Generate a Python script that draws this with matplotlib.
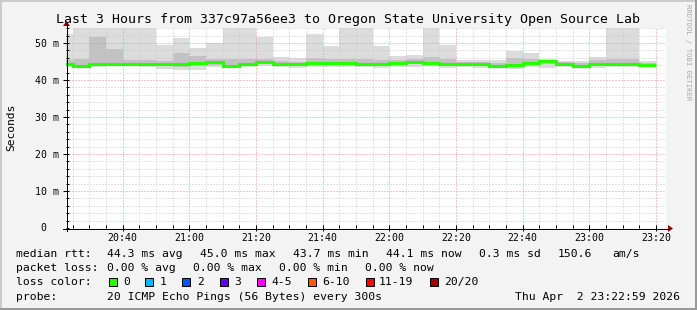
import numpy as np
import matplotlib
matplotlib.use("Agg")
import matplotlib.pyplot as plt
from matplotlib.patches import Rectangle, Polygon
from matplotlib.lines import Line2D
from matplotlib.ticker import MultipleLocator

W, H = 697, 310
MONO = "DejaVu Sans Mono"
plt.rcParams["font.family"] = [MONO]

title = "Last 3 Hours from 337c97a56ee3 to Oregon State University Open Source Lab"
ylabel = "Seconds"
watermark = "RRDTOOL / TOBI OETIKER"

# time axis in minutes after 20:00
window_start = 22.98     # 20:22:59
window_end = 202.98      # 23:22:59
first_bar_start = 20     # 20:20
bar_minutes = 5

# per 5-minute step values (milliseconds)
median_ms = [44.2, 43.8, 44.2, 44.3, 44.3, 44.3, 44.3, 44.4, 44.6, 44.8, 43.9, 44.2,
             44.9, 44.3, 44.2, 44.5, 44.7, 44.5, 44.4, 44.3, 44.7, 44.9, 44.5, 44.4,
             44.4, 44.3, 43.9, 44.1, 44.7, 45.0, 44.4, 43.7, 44.3, 44.4, 44.4, 44.1]
smoke_max_ms = [52.4, 60.0, 58.0, 56.0, 57.0, 59.0, 49.5, 51.3, 48.6, 49.9, 61.0, 55.0,
                51.5, 46.3, 45.9, 52.3, 49.2, 57.0, 58.0, 49.2, 46.5, 46.8, 60.0, 49.5,
                45.4, 45.4, 45.3, 47.9, 47.4, 45.8, 45.0, 45.2, 46.3, 62.0, 60.0, 45.2]
smoke_hi_ms = [45.4, 45.6, 51.5, 48.3, 45.3, 45.4, 45.2, 47.4, 46.5, 45.6, 45.8, 45.6,
               45.6, 45.0, 44.9, 46.0, 45.6, 45.8, 45.6, 45.4, 45.5, 45.6, 46.3, 45.6,
               44.9, 44.9, 44.6, 45.9, 45.7, 45.3, 44.9, 44.6, 45.3, 45.8, 45.6, 44.7]
smoke_lo_ms = [43.8, 43.6, 43.8, 44.0, 44.0, 43.9, 43.7, 43.6, 43.7, 44.0, 43.6, 43.9,
               44.2, 43.9, 43.7, 44.0, 44.0, 44.0, 43.9, 43.8, 44.0, 44.2, 44.0, 43.8,
               44.0, 43.8, 43.5, 43.6, 44.1, 44.3, 43.9, 43.4, 43.8, 44.0, 43.9, 43.8]
smoke_min_ms = [43.5, 43.4, 43.6, 43.9, 43.9, 43.6, 43.0, 42.8, 42.8, 43.4, 43.2, 43.6,
                43.7, 43.5, 43.2, 43.6, 43.4, 43.5, 43.6, 43.2, 43.4, 43.4, 43.7, 43.2,
                43.6, 43.2, 43.3, 42.9, 43.6, 43.2, 43.4, 43.2, 43.2, 43.6, 43.6, 43.6]

xtick_minutes = [40, 60, 80, 100, 120, 140, 160, 180, 200]
xtick_labels = ["20:40", "21:00", "21:20", "21:40", "22:00", "22:20", "22:40", "23:00", "23:20"]
ytick_values = [10, 20, 30, 40, 50]
ytick_labels = ["10 m", "20 m", "30 m", "40 m", "50 m"]
y_max = 54.05

rtt_label = "median rtt:"
rtt_items = ["44.3 ms avg", "45.0 ms max", "43.7 ms min", "44.1 ms now", "0.3 ms sd", "150.6", "am/s"]
loss_label = "packet loss:"
loss_items = ["0.00 % avg", "0.00 % max", "0.00 % min", "0.00 % now"]
color_label = "loss color:"
loss_names = ["0", "1", "2", "3", "4-5", "6-10", "11-19", "20/20"]
loss_colors = ["#26ff00", "#00b8ff", "#0059ff", "#5e00ff", "#ff00ff", "#ff5500", "#ff0000", "#a00000"]
probe_label = "probe:"
probe_text = "20 ICMP Echo Pings (56 Bytes) every 300s"
date_text = "Thu Apr  2 23:22:59 2026"

# ---------------------------------------------------------------------------
fig = plt.figure(figsize=(W / 100, H / 100), dpi=100, facecolor="#f3f3f3")


def fx(x):
    return x / W


def fy(y):
    return 1 - y / H


ax = fig.add_axes([fx(66), fy(228), 600 / W, 200 / H])
ax.set_facecolor("white")
for s in ax.spines.values():
    s.set_visible(False)

edges = np.arange(len(median_ms) + 1) * bar_minutes + first_bar_start
ax.stairs(smoke_max_ms, edges, baseline=smoke_min_ms, fill=True, color="#dcdcdc", lw=0, zorder=1)
ax.stairs(smoke_hi_ms, edges, baseline=smoke_lo_ms, fill=True, color="#c2c2c2", lw=0, zorder=1.1)
ax.stairs(median_ms, edges, baseline=None, color="#26ff00", lw=2.2, zorder=3)

ax.set_xlim(window_start, window_end)
ax.set_ylim(0, y_max)

ax.set_xticks(xtick_minutes, xtick_labels)
ax.set_yticks(ytick_values, ytick_labels)
ax.xaxis.set_minor_locator(MultipleLocator(5))
ax.yaxis.set_minor_locator(MultipleLocator(2))

ax.set_axisbelow(False)
ax.grid(which="minor", color="#c8c8c8", lw=0.72, ls=(0, (1, 2)), zorder=2)
ax.grid(which="major", color="#f08c8c", lw=0.72, ls=(0, (1, 2)), zorder=2.1)

ax.tick_params(which="major", length=4, width=0.72, color="black", direction="inout",
               labelsize=7.1)
ax.tick_params(which="minor", length=2, width=0.72, color="black", direction="in")
ax.tick_params(axis="y", which="major", pad=3)
ax.tick_params(axis="x", which="major", pad=1.5)
ax.text(-0.032, 0, "0", transform=ax.get_yaxis_transform(), ha="right", va="center",
        fontsize=7.1, family=MONO)

# axis lines and arrows
fig.add_artist(Line2D([fx(63), fx(669)], [fy(228.5), fy(228.5)], color="black", lw=0.72))
fig.add_artist(Line2D([fx(66.5), fx(66.5)], [fy(231), fy(24)], color="black", lw=0.72))
fig.add_artist(Polygon([(fx(668), fy(225)), (fx(668), fy(232)), (fx(673), fy(228.5))],
                       closed=True, color="#9a0000", lw=0))
fig.add_artist(Polygon([(fx(63), fy(26)), (fx(70), fy(26)), (fx(66.5), fy(21))],
                       closed=True, color="#9a0000", lw=0))

# border shading
fig.add_artist(Rectangle((0, fy(2)), 1, 2 / H, color="#cbcbcb", lw=0))
fig.add_artist(Rectangle((0, 0), 2 / W, 1, color="#cbcbcb", lw=0))
fig.add_artist(Rectangle((fx(695), 0), 2 / W, 1, color="#999999", lw=0))
fig.add_artist(Rectangle((0, 0), 1, 2 / H, color="#999999", lw=0))

# texts
fig.text(0.5, fy(19), title, ha="center", va="center", fontsize=9.5, family=MONO)
fig.text(fx(11), fy(127), ylabel, ha="center", va="center", rotation=90, fontsize=8.1, family=MONO)
fig.text(fx(688), fy(52), watermark, ha="center", va="center", rotation=270, fontsize=5.2,
         family=MONO, color="#a8a8a8")

LFS = 8.2
rtt_x = [107, 200, 293, 386, 479, 558, 612.5]
fig.text(fx(16), fy(254.2), rtt_label, ha="left", va="center", fontsize=LFS, family=MONO)
for t, x in zip(rtt_items, rtt_x):
    fig.text(fx(x), fy(254.2), t, ha="left", va="center", fontsize=LFS, family=MONO)

loss_x = [107, 193, 279, 365]
fig.text(fx(16), fy(268.3), loss_label, ha="left", va="center", fontsize=LFS, family=MONO)
for t, x in zip(loss_items, loss_x):
    fig.text(fx(x), fy(268.3), t, ha="left", va="center", fontsize=LFS, family=MONO)

box_x = [108.5, 145, 182, 219.5, 257, 307.5, 365.5, 430]
text_x = [123, 160, 197, 234, 271, 322, 379, 444.5]
fig.text(fx(16), fy(282.2), color_label, ha="left", va="center", fontsize=LFS, family=MONO)
for name, c, bx, tx in zip(loss_names, loss_colors, box_x, text_x):
    fig.add_artist(Rectangle((fx(bx), fy(286.2)), 8 / W, 8 / H, facecolor=c,
                             edgecolor="black", lw=0.72))
    fig.text(fx(tx), fy(282.2), name, ha="left", va="center", fontsize=LFS, family=MONO)

fig.text(fx(16), fy(296.5), probe_label, ha="left", va="center", fontsize=LFS, family=MONO)
fig.text(fx(107), fy(296.5), probe_text, ha="left", va="center", fontsize=LFS, family=MONO)
fig.text(fx(680), fy(296.5), date_text, ha="right", va="center", fontsize=LFS, family=MONO)

fig.savefig("out.png", dpi=100, facecolor=fig.get_facecolor())
